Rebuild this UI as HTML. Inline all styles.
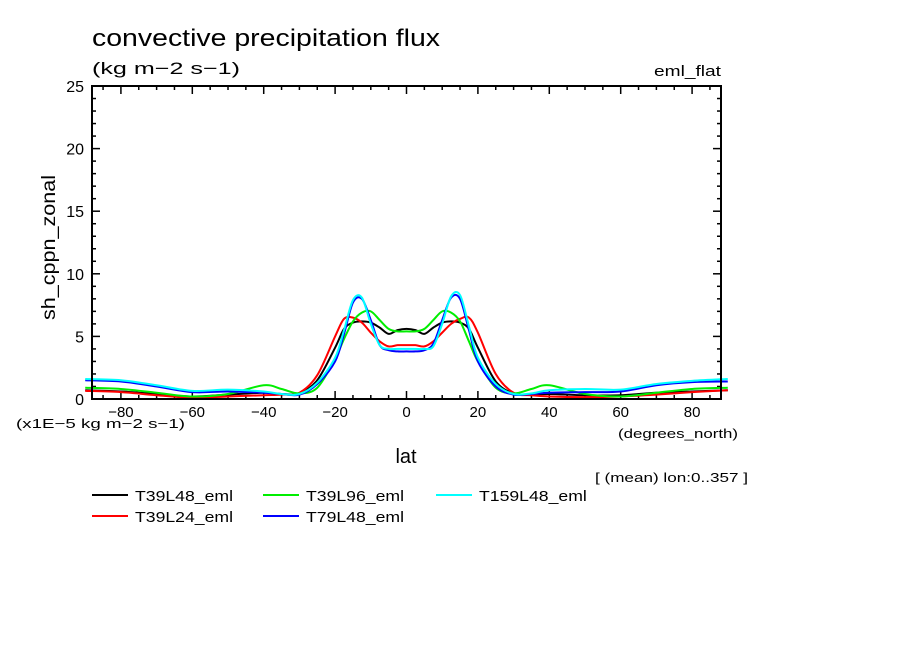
<!DOCTYPE html>
<html><head><meta charset="utf-8"><style>
body{margin:0;background:#fff;}
svg text{font-family:"Liberation Sans",sans-serif;fill:#000;}
</style></head><body>
<svg id="chart" width="904" height="654" xmlns="http://www.w3.org/2000/svg">
<rect width="904" height="654" fill="#fff"/>
<text x="92" y="46" font-size="24" textLength="348" lengthAdjust="spacingAndGlyphs">convective precipitation flux</text>
<text x="92" y="74" font-size="17" textLength="148" lengthAdjust="spacingAndGlyphs">(kg m−2 s−1)</text>
<text x="654" y="76" font-size="15" textLength="67" lengthAdjust="spacingAndGlyphs">eml_flat</text>
<defs><clipPath id="pc"><rect x="80" y="80" width="660" height="322"/></clipPath></defs>
<g id="ticks"></g>
<g id="series" clip-path="url(#pc)"></g>
<rect x="92" y="86" width="629" height="313" fill="none" stroke="#000" stroke-width="2"/>
<text transform="translate(55,320) rotate(-90)" font-size="19" textLength="145" lengthAdjust="spacingAndGlyphs">sh_cppn_zonal</text>
<text x="16" y="428" font-size="13" textLength="169" lengthAdjust="spacingAndGlyphs">(x1E−5 kg m−2 s−1)</text>
<text x="618" y="438" font-size="13" textLength="120" lengthAdjust="spacingAndGlyphs">(degrees_north)</text>
<text x="406" y="463" font-size="20" text-anchor="middle">lat</text>
<text x="595" y="482" font-size="13" textLength="153" lengthAdjust="spacingAndGlyphs">[ (mean) lon:0..357 ]</text>
<g id="legend"></g>
</svg>
<script>
const lats=[-90,-80,-70,-60,-50,-40,-35,-30,-25,-20,-17.5,-15,-12.5,-10,-7.5,-5,-2.5,0,2.5,5,7.5,10,12.5,15,17.5,20,25,30,35,40,50,60,70,80,90];
const seriesNames=["T39L48_eml","T39L24_eml","T39L96_eml","T79L48_eml","T159L48_eml"];
const valsT39L48=[0.7,0.6,0.4,0.2,0.35,0.5,0.4,0.45,1.5,4.1,5.6,6.1,6.2,6.1,5.7,5.2,5.5,5.6,5.5,5.2,5.7,6.1,6.2,6.1,5.6,4.1,1.4,0.45,0.35,0.4,0.3,0.3,0.5,0.6,0.7];
const valsT39L24=[0.65,0.55,0.3,0.1,0.2,0.3,0.35,0.5,1.9,5.0,6.4,6.5,6.1,5.3,4.6,4.2,4.3,4.3,4.3,4.2,4.6,5.3,6.0,6.4,6.5,5.3,2.0,0.5,0.3,0.2,0.15,0.2,0.35,0.55,0.7];
const valsT39L96=[0.9,0.8,0.5,0.2,0.4,1.1,0.8,0.45,0.9,3.2,4.8,6.2,6.9,7.0,6.3,5.6,5.4,5.4,5.4,5.6,6.3,7.0,6.9,6.2,4.6,3.0,0.9,0.45,0.8,1.1,0.4,0.2,0.5,0.8,0.9];
const valsT79L48=[1.5,1.4,1.0,0.55,0.6,0.5,0.4,0.35,1.2,3.0,5.2,7.7,8.0,6.3,4.3,3.9,3.8,3.8,3.8,3.9,4.4,6.3,8.1,8.0,5.5,3.0,1.0,0.35,0.4,0.5,0.55,0.6,1.1,1.35,1.4];
const valsT159L48=[1.6,1.5,1.1,0.65,0.75,0.6,0.4,0.4,1.3,3.3,5.5,7.9,8.1,6.0,4.3,4.0,4.0,4.0,4.0,4.0,4.2,6.0,8.2,8.3,5.8,3.3,1.2,0.4,0.45,0.7,0.8,0.75,1.2,1.45,1.6];
const xTicks=[-80,-60,-40,-20,0,20,40,60,80];
const yTicks=[0,5,10,15,20,25];
const colors=["#000","#f00","#0e0","#00f","#0ff"];
const allVals=[valsT39L48,valsT39L24,valsT39L96,valsT79L48,valsT159L48];
const NS="http://www.w3.org/2000/svg";
const X0=92,X1=721,Y0=399,Y1=86,LMIN=-88.1,LMAX=88.1,VMAX=25;
const xs=l=>X0+(l-LMIN)/(LMAX-LMIN)*(X1-X0);
const ys=v=>Y0-v/VMAX*(Y0-Y1);
function mk(t,a,p){const e=document.createElementNS(NS,t);for(const k in a)e.setAttribute(k,a[k]);p.appendChild(e);return e;}
const tg=document.getElementById('ticks');
for(let l=-85;l<=85;l+=5){const maj=l%20===0;const x=xs(l);const L=maj?8:4;
 const t1=mk('line',{x1:x,x2:x,y1:Y0,y2:Y0-L,stroke:'#000','stroke-width':1.5},tg);
 
 
 const t2=mk('line',{x1:x,x2:x,y1:Y1,y2:Y1+L,stroke:'#000','stroke-width':1.5},tg);
 
 }
xTicks.forEach(l=>{const t=mk('text',{x:xs(l),y:417,'font-size':15,'text-anchor':'middle'},tg);t.textContent=(l<0?'−':'')+Math.abs(l);
 
 });
for(let v=1;v<VMAX;v++){const maj=v%5===0;const y=ys(v);const L=maj?8:4;
 const a=mk('line',{x1:X0,x2:X0+L,y1:y,y2:y,stroke:'#000','stroke-width':1.5},tg);
 
 
 const b=mk('line',{x1:X1,x2:X1-L,y1:y,y2:y,stroke:'#000','stroke-width':1.5},tg);
 
 }
yTicks.forEach(v=>{const t=mk('text',{x:84,y:ys(v)+6,'font-size':16,'text-anchor':'end'},tg);t.textContent=v;
 
 });
function pathD(vals){const p=lats.map((l,i)=>[xs(l),ys(vals[i])]);let d='M'+p[0][0]+','+p[0][1];
 for(let i=0;i<p.length-1;i++){const p0=p[Math.max(0,i-1)],p1=p[i],p2=p[i+1],p3=p[Math.min(p.length-1,i+2)];
  const c1=[p1[0]+(p2[0]-p0[0])/6,p1[1]+(p2[1]-p0[1])/6],c2=[p2[0]-(p3[0]-p1[0])/6,p2[1]-(p3[1]-p1[1])/6];
  d+=` C${c1[0]},${c1[1]} ${c2[0]},${c2[1]} ${p2[0]},${p2[1]}`;}return d;}
const sg=document.getElementById('series');
allVals.forEach((vals,i)=>{const e=mk('path',{d:pathD(vals),fill:'none',stroke:colors[i],'stroke-width':2},sg);
 
 });
const lg=document.getElementById('legend');
const pos=[[92,495],[92,516],[263,495],[263,516],[436,495]];
seriesNames.forEach((n,i)=>{const [x,y]=pos[i];
 const g=mk('g',{},lg);
 
 
 mk('line',{x1:x,x2:x+36,y1:y,y2:y,stroke:colors[i],'stroke-width':2},g);
 const t=mk('text',{x:x+43,y:y+6,'font-size':15,textLength:n.length*9.8,lengthAdjust:'spacingAndGlyphs'},g);t.textContent=n;});
</script>
</body></html>
